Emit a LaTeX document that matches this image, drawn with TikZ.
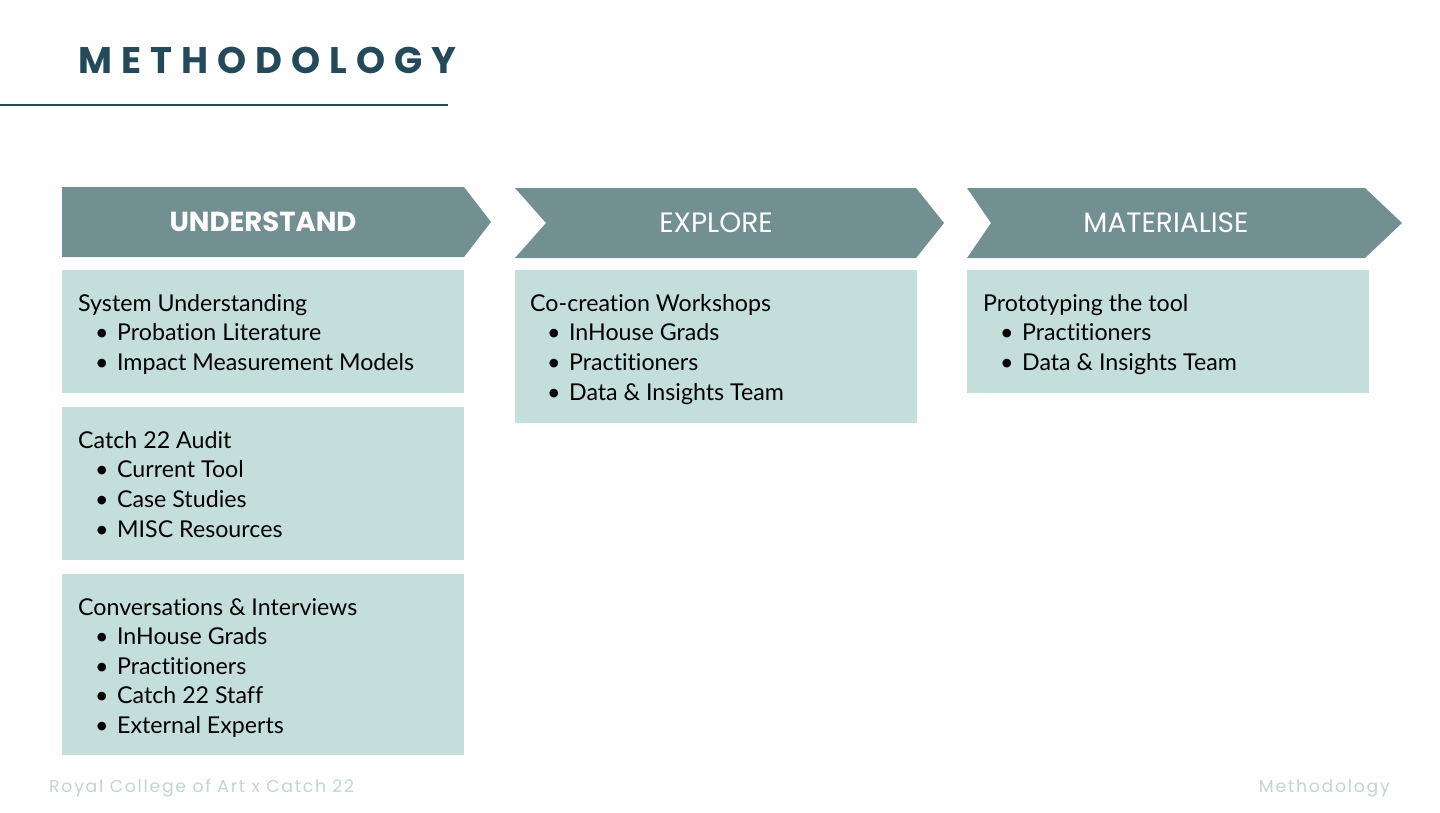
\documentclass[tikz,border=0pt]{standalone}
\usepackage{fontspec}
\setmainfont[Ligatures={NoCommon}]{Lato}
\newfontfamily\titlefont[LetterSpace=24.5]{Poppins}
\newfontfamily\headfont{Poppins}
\newfontfamily\footfont[LetterSpace=10]{Poppins}
\definecolor{dark}{HTML}{23495A}
\definecolor{chev}{HTML}{728F92}
\definecolor{lightbox}{HTML}{C4DFDB}
\definecolor{foot}{HTML}{C3D5D2}
\begin{document}
\begin{tikzpicture}[x=1pt,y=-1pt,
  chevfill/.style={fill=chev,draw=none},
  boxfill/.style={fill=lightbox,draw=none},
  headtext/.style={text=white,font=\headfont\fontsize{28}{32}\selectfont,inner sep=0pt},
  bodytext/.style={anchor=north west,inner sep=0pt,align=left,font=\fontsize{23.2}{29.6}\selectfont,text=black},
  foottext/.style={text=foot,font=\footfont\fontsize{17.3}{20}\selectfont,inner sep=0pt}]
\useasboundingbox (0,0) rectangle (1440,812);
\fill[white] (0,0) rectangle (1440,812);
% title
\node[anchor=base west,inner sep=0pt,text=dark,font=\titlefont\bfseries\fontsize{37}{40}\selectfont] (title) at (78,73) {METHODOLOGY};
\coordinate (ruleL) at (0,105);
\coordinate (ruleR) at (448,105);
\draw[dark,line width=1.5pt] (ruleL) -- (ruleR);
% chevrons
\fill[chevfill] (62,187) -- (464,187) -- (491,222) -- (464,257) -- (62,257) -- cycle;
\fill[chevfill] (515,188) -- (916,188) -- (944,223) -- (916,258) -- (515,258) -- (546,223) -- cycle;
\fill[chevfill] (967,188) -- (1365,188) -- (1402,223) -- (1365,258) -- (967,258) -- (991,223) -- cycle;
\node[headtext,font=\headfont\bfseries\fontsize{27.5}{32}\selectfont] (h1) at (263,222) {UNDERSTAND};
\node[headtext] (h2) at (716,223) {EXPLORE};
\node[headtext] (h3) at (1166,223) {MATERIALISE};
% boxes
\fill[boxfill] (62,270) rectangle (464,393);
\fill[boxfill] (62,407) rectangle (464,560);
\fill[boxfill] (62,574) rectangle (464,755);
\fill[boxfill] (515,270) rectangle (917,423);
\fill[boxfill] (967,270) rectangle (1369,393);
\newcommand{\bl}[1]{\\\hspace*{17pt}\textbullet\hspace{8.5pt}#1}
\node[bodytext] (t1) at (78,294) {System Understanding\bl{Probation Literature}\bl{Impact Measurement Models}};
\node[bodytext] (t2) at (78,431) {Catch 22 Audit\bl{Current Tool}\bl{Case Studies}\bl{MISC Resources}};
\node[bodytext] (t3) at (78,598) {Conversations \& Interviews\bl{InHouse Grads}\bl{Practitioners}\bl{Catch 22 Staff}\bl{External Experts}};
\node[bodytext] (t4) at (530,294) {Co-creation Workshops\bl{InHouse Grads}\bl{Practitioners}\bl{Data \& Insights Team}};
\node[bodytext] (t5) at (983,294) {Prototyping the tool\bl{Practitioners}\bl{Data \& Insights Team}};
% footer
\node[foottext,anchor=west] (f1) at (49,788) {Royal College of Art x Catch 22};
\node[foottext,anchor=east] (f2) at (1390,788) {Methodology};
\end{tikzpicture}
\end{document}
